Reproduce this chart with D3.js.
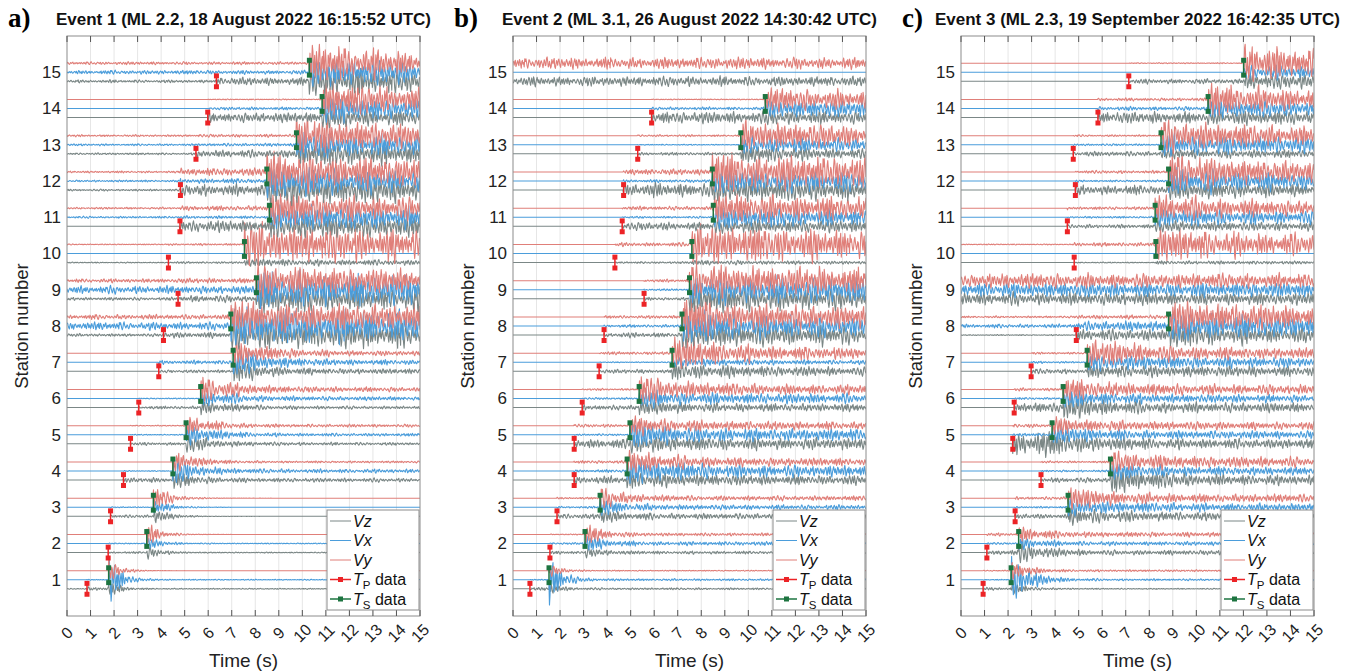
<!DOCTYPE html>
<html>
<head>
<meta charset="utf-8">
<script src="https://cdn.jsdelivr.net/npm/d3@7"></script>
<style>
  body { margin: 0; background: #fff; font-family: "Liberation Sans", Arial, sans-serif; }
</style>
</head>
<body>
<div id="chart"></div>
<script>
// tick labels
var timeTicks = [0, 1, 2, 3, 4, 5, 6, 7, 8, 9, 10, 11, 12, 13, 14, 15];
var stations = [1, 2, 3, 4, 5, 6, 7, 8, 9, 10, 11, 12, 13, 14, 15];

var panelLetters = ["a)", "b)", "c)"];
var eventTitles = [
  "Event 1 (ML 2.2, 18 August 2022 16:15:52 UTC)",
  "Event 2 (ML 3.1, 26 August 2022 14:30:42 UTC)",
  "Event 3 (ML 2.3, 19 September 2022 16:42:35 UTC)"
];

// picked arrival times (s), station 1..15
var ev1Tp = [0.85, 1.75, 1.85, 2.4, 2.7, 3.05, 3.9, 4.1, 4.72, 4.31, 4.8, 4.82, 5.48, 5.98, 6.35];
var ev1Ts = [1.77, 3.39, 3.67, 4.5, 5.06, 5.68, 7.06, 6.96, 8.05, 7.54, 8.6, 8.49, 9.75, 10.84, 10.3];
var ev2Tp = [0.72, 1.57, 1.87, 2.6, 2.6, 2.94, 3.66, 3.87, 5.57, 4.33, 4.64, 4.7, 5.3, 5.89, null];
var ev2Ts = [1.53, 3.06, 3.7, 4.85, 4.97, 5.36, 6.76, 7.18, 7.5, 7.6, 8.51, 8.47, 9.68, 10.72, null];
var ev3Tp = [0.94, 1.1, 2.3, 3.4, 2.2, 2.26, 2.98, 4.9, null, 4.81, 4.52, 4.86, 4.77, 5.82, 7.13];
var ev3Ts = [2.13, 2.45, 4.55, 6.35, 3.87, 4.34, 5.36, 8.82, null, 8.28, 8.25, 8.82, 8.5, 10.5, 12.01];

// coda decay time (s), station 1..15
var ev1Tau = [0.5, 0.6, 0.8, 1.0, 1.2, 1.5, 1.5, 4, 4, 4, 4, 4, 4, 4, 4];
var ev2Tau = [0.5, 0.8, 1, 2, 2, 2, 3, 3, 4, 4, 4, 4, 4, 4, 4];
var ev3Tau = [0.8, 1, 2, 2, 2, 2, 3, 4, 4, 4, 4, 4, 4, 4, 4];

// amplitude (station units): [pre-P noise, P window, S peak, coda level]
var ev1Vy = [[0,0,0.25,0],[0,0,0.28,0],[0,0,0.25,0],[0,0,0.25,0.02],[0,0.01,0.22,0.03],
  [0,0,0.3,0.05],[0,0,0.3,0.05],[0.05,0.05,0.35,0.25],[0.04,0.05,0.35,0.22],[0.01,0.02,0.45,0.3],
  [0.02,0.05,0.35,0.2],[0.02,0.08,0.45,0.25],[0.02,0.03,0.4,0.18],[0,0.01,0.4,0.15],[0.03,0.03,0.42,0.18]];
var ev1Vx = [[0,0.01,0.55,0.01],[0,0.01,0.15,0.01],[0,0.01,0.15,0],[0,0.01,0.3,0.04],[0,0.01,0.25,0.03],
  [0,0.01,0.2,0.04],[0,0.04,0.3,0.05],[0.08,0.08,0.4,0.3],[0.08,0.08,0.4,0.3],[0,0,0,0],
  [0.02,0.03,0.3,0.2],[0.02,0.05,0.35,0.2],[0.02,0.03,0.3,0.18],[0,0.03,0.3,0.15],[0.04,0.04,0.3,0.2]];
var ev1Vz = [[0.01,0.04,0.18,0.01],[0,0.02,0.15,0.01],[0,0.03,0.15,0],[0,0.05,0.2,0.04],[0,0.03,0.2,0.03],
  [0,0.03,0.15,0.03],[0,0.03,0.25,0.05],[0.03,0.06,0.3,0.25],[0.03,0.07,0.3,0.22],[0.01,0.02,0.08,0.05],
  [0,0.12,0.25,0.2],[0.02,0.12,0.3,0.25],[0.02,0.08,0.25,0.2],[0,0.1,0.22,0.12],[0.03,0.08,0.3,0.22]];

var ev2Vy = [[0,0,0.15,0.01],[0,0.01,0.25,0.03],[0,0.02,0.25,0.05],[0,0.03,0.25,0.08],[0,0.03,0.22,0.08],
  [0,0.02,0.3,0.1],[0,0.03,0.35,0.1],[0,0.03,0.45,0.2],[0,0.03,0.35,0.25],[0,0.04,0.45,0.3],
  [0,0.04,0.35,0.2],[0,0.06,0.4,0.3],[0,0.02,0.35,0.15],[0,0.01,0.25,0.15],[0.12,0.12,0.12,0.12]];
var ev2Vx = [[0,0.01,0.55,0.02],[0,0.02,0.2,0.04],[0,0.02,0.2,0.05],[0,0.03,0.3,0.12],[0,0.02,0.3,0.12],
  [0,0.02,0.2,0.1],[0,0.01,0.1,0.04],[0,0.03,0.35,0.2],[0,0.02,0.3,0.25],[0,0,0,0],
  [0,0.02,0.25,0.15],[0,0.03,0.25,0.2],[0,0.01,0.2,0.12],[0,0.03,0.2,0.15],[0,0,0,0]];
var ev2Vz = [[0,0.03,0.12,0.02],[0,0.03,0.12,0.03],[0,0.05,0.15,0.06],[0,0.08,0.2,0.1],[0,0.1,0.2,0.12],
  [0,0.05,0.15,0.08],[0,0.04,0.2,0.08],[0,0.05,0.3,0.2],[0,0.03,0.3,0.2],[0,0.02,0.05,0.03],
  [0,0.08,0.15,0.12],[0,0.15,0.25,0.2],[0,0.03,0.2,0.06],[0,0.12,0.15,0.12],[0.1,0.1,0.1,0.1]];

var ev3Vy = [[0,0.01,0.2,0.02],[0,0.03,0.2,0.05],[0,0.03,0.25,0.08],[0,0.02,0.25,0.1],[0,0.04,0.2,0.08],
  [0,0.03,0.25,0.1],[0,0.02,0.3,0.1],[0.02,0.04,0.35,0.2],[0.15,0.15,0.15,0.15],[0.01,0.04,0.35,0.2],
  [0,0.03,0.3,0.12],[0,0.03,0.4,0.15],[0,0.02,0.35,0.15],[0,0.03,0.35,0.15],[0,0.01,0.4,0.2]];
var ev3Vx = [[0,0.01,0.5,0.02],[0,0.02,0.15,0.04],[0,0.02,0.2,0.08],[0,0.02,0.2,0.08],[0,0.03,0.2,0.08],
  [0,0.02,0.2,0.08],[0,0.02,0.2,0.1],[0.04,0.1,0.3,0.2],[0.15,0.15,0.15,0.15],[0,0,0,0],
  [0,0.02,0.2,0.12],[0,0.02,0.3,0.15],[0,0.02,0.25,0.15],[0,0.04,0.2,0.15],[0,0,0.15,0.12]];
var ev3Vz = [[0,0.03,0.12,0.01],[0,0.05,0.25,0.05],[0,0.05,0.2,0.08],[0,0.05,0.3,0.1],[0,0.25,0.25,0.1],
  [0,0.1,0.25,0.1],[0,0.05,0.15,0.1],[0.01,0.12,0.25,0.15],[0.13,0.13,0.13,0.1],[0,0.01,0.04,0.03],
  [0,0.04,0.12,0.08],[0,0.1,0.2,0.12],[0,0.05,0.1,0.08],[0,0.12,0.15,0.15],[0,0.05,0.15,0.15]];

// hand-typed wiggle shape that carries every trace's envelope
var wiggle = [0.3,0.8,0.2,-0.5,-0.9,-0.4,0.6,1,0.3,-0.2,-0.7,-0.3,0.4,0.2,-0.6,-1,-0.5,0.5,0.9,0.7,
  -0.1,-0.4,0.3,0.6,-0.8,-0.6,0.2,0.5,0.1,-0.3,-0.9,-0.2,0.7,0.4,-0.5,-0.3,0.8,1,0.2,-0.6,
  -0.4,0.3,-0.2,-0.8,-0.5,0.6,0.3,-0.1,0.4,0.9,-0.7,-1,-0.3,0.5,0.2,-0.4,0.6,0.8,0.1,-0.5,
  -0.8,0.2,0.7,0.3,-0.6,-0.2,0.4,-0.9,-0.4,0.3,1,0.5,-0.3,-0.7,0.1,0.6,-0.2,-0.5,0.8,0.4,
  -0.6,-1,-0.2,0.3,0.7,0.2,-0.4,0.5,-0.3,-0.8,0.2,0.9,0.6,-0.5,-0.2,0.4,-0.7,-0.3,0.6,0.2,
  -0.1,-0.6,0.5,1,0.3,-0.9,-0.5,0.2,0.4,-0.3,0.7,-0.6,-0.2,0.8,0.3,-0.4,-1,-0.6,0.5,0.2,
  -0.2,0.6,0.9,-0.3,-0.7,0.1,0.4,-0.5,0.3,0.7,-0.8,-0.4,0.2,0.6,-0.1,-0.6,0.9,0.4,-0.3,-0.9,
  0.3,0.5,-0.2,0.1,-0.7,0.8];
// hand-typed burst strength per 0.35 s stretch
var bursts = [1, 0.7, 1.2, 0.8, 0.55, 0.9, 1.3, 0.75, 0.6, 1.1, 0.85, 0.5, 1, 1.25, 0.7, 0.9, 0.65, 1.15, 0.8, 1.05, 0.6, 0.95, 1.2];

var events = [
  { tp: ev1Tp, ts: ev1Ts, tau: ev1Tau, vz: ev1Vz, vx: ev1Vx, vy: ev1Vy },
  { tp: ev2Tp, ts: ev2Ts, tau: ev2Tau, vz: ev2Vz, vx: ev2Vx, vy: ev2Vy },
  { tp: ev3Tp, ts: ev3Ts, tau: ev3Tau, vz: ev3Vz, vx: ev3Vx, vy: ev3Vy }
];

var colors = { vz: "#7b8786", vx: "#4b9ddb", vy: "#e07f79", tp: "#ec2326", ts: "#1d7440" };
var offsets = { vz: -0.25, vx: 0, vy: 0.25 };
var gain = 1.2;

var W = 1353, H = 672;
var panelLeft = [67, 513, 961];
var plotW = 353, plotTop = 36, plotBottom = 616;

var svg = d3.select("#chart").append("svg")
  .attr("width", W).attr("height", H);

var y = d3.scaleLinear().domain([0, 16]).range([plotBottom, plotTop]);
var sampleTimes = d3.range(0, 15.0001, 0.025);

function envelope(t, a, tp, ts, tau) {
  if (tp == null || t < tp) return a[0];
  if (t < ts) return Math.max(a[0], a[1]);
  return Math.max(a[0], a[3] + (a[2] - a[3]) * Math.exp(-(t - ts) / tau));
}

events.forEach(function (ev, ei) {
  var x = d3.scaleLinear().domain([0, 15]).range([panelLeft[ei], panelLeft[ei] + plotW]);
  var g = svg.append("g");

  g.append("clipPath").attr("id", "clip" + ei)
    .append("rect")
    .attr("x", x(0)).attr("y", plotTop)
    .attr("width", plotW).attr("height", plotBottom - plotTop);

  // grid
  g.append("g").selectAll("line").data(timeTicks.slice(1, -1)).join("line")
    .attr("x1", d => x(d)).attr("x2", d => x(d))
    .attr("y1", plotTop).attr("y2", plotBottom)
    .attr("stroke", "#e6e6e6").attr("stroke-width", 1);

  // traces
  var traces = g.append("g").attr("clip-path", "url(#clip" + ei + ")");
  stations.forEach(function (s, si) {
    ["vz", "vx", "vy"].forEach(function (comp, ci) {
      var amp = ev[comp][si];
      var shift = (si * 23 + ci * 41 + ei * 13) % wiggle.length;
      var bshift = (si * 5 + ci * 7 + ei * 3) % bursts.length;
      var ts = ev.ts[si];
      var line = d3.line()
        .x(d => x(d))
        .y(function (d, i) {
          var e = envelope(d, amp, ev.tp[si], ts, ev.tau[si]);
          // the first half second after the S pick keeps its full peak
          var b = (ts != null && d >= ts && d < ts + 0.5) ? 1.1 : bursts[(Math.floor(d / 0.35) + bshift) % bursts.length];
          return y(s + offsets[comp] + gain * b * e * wiggle[(i + shift) % wiggle.length]);
        });
      traces.append("path")
        .attr("d", line(sampleTimes))
        .attr("fill", "none")
        .attr("stroke", colors[comp])
        .attr("stroke-width", 1.1)
        .attr("stroke-linejoin", "round");
    });
  });

  // picks
  var picks = g.append("g");
  stations.forEach(function (s, si) {
    if (ev.tp[si] == null) return;
    [[ev.tp[si], s - 0.1, s - 0.4, colors.tp], [ev.ts[si], s + 0.33, s - 0.08, colors.ts]].forEach(function (p) {
      picks.append("line")
        .attr("x1", x(p[0])).attr("x2", x(p[0]))
        .attr("y1", y(p[1])).attr("y2", y(p[2]))
        .attr("stroke", p[3]).attr("stroke-width", 1.5);
      [p[1], p[2]].forEach(function (v) {
        picks.append("rect")
          .attr("x", x(p[0]) - 2.5).attr("y", y(v) - 2.5)
          .attr("width", 5).attr("height", 5)
          .attr("fill", p[3]);
      });
    });
  });

  // frame and ticks
  g.append("rect")
    .attr("x", x(0)).attr("y", plotTop)
    .attr("width", plotW).attr("height", plotBottom - plotTop)
    .attr("fill", "none").attr("stroke", "#8c8c8c").attr("stroke-width", 1);

  g.append("g").selectAll("line").data(timeTicks).join("line")
    .attr("x1", d => x(d)).attr("x2", d => x(d))
    .attr("y1", plotTop).attr("y2", plotTop + 6)
    .attr("stroke", "#555");
  g.append("g").selectAll("line").data(timeTicks).join("line")
    .attr("x1", d => x(d)).attr("x2", d => x(d))
    .attr("y1", plotBottom).attr("y2", plotBottom - 6)
    .attr("stroke", "#555");

  // x tick labels
  g.append("g").selectAll("text").data(timeTicks).join("text")
    .attr("transform", d => "translate(" + x(d) + ",633) rotate(-45)")
    .attr("text-anchor", "middle")
    .attr("dy", "0.35em")
    .attr("font-size", 16)
    .attr("fill", "#222")
    .text(d => d);

  // y tick labels
  g.append("g").selectAll("text").data(stations).join("text")
    .attr("x", x(0) - 6).attr("y", d => y(d))
    .attr("text-anchor", "end")
    .attr("dy", "0.35em")
    .attr("font-size", 17)
    .attr("fill", "#222")
    .text(d => d);

  // axis labels
  g.append("text")
    .attr("x", x(7.5)).attr("y", 667)
    .attr("text-anchor", "middle")
    .attr("font-size", 19)
    .attr("fill", "#222")
    .text("Time (s)");
  g.append("text")
    .attr("transform", "translate(" + (x(0) - 39) + "," + ((plotTop + plotBottom) / 2) + ") rotate(-90)")
    .attr("text-anchor", "middle")
    .attr("font-size", 18.5)
    .attr("fill", "#222")
    .text("Station number");

  // titles
  g.append("text")
    .attr("x", x(0) - 59).attr("y", 27)
    .attr("font-family", "'Liberation Serif', 'Times New Roman', serif")
    .attr("font-weight", "bold")
    .attr("font-size", 27)
    .text(panelLetters[ei]);
  g.append("text")
    .attr("x", x(7.5)).attr("y", 25)
    .attr("text-anchor", "middle")
    .attr("font-weight", "bold")
    .attr("font-size", 17)
    .attr("fill", "#111")
    .text(eventTitles[ei]);

  // legend
  var lx = x(15) - 93, ly = plotBottom - 106;
  var lg = g.append("g");
  lg.append("rect")
    .attr("x", lx).attr("y", ly).attr("width", 92).attr("height", 100)
    .attr("fill", "#fff").attr("stroke", "#8c8c8c");
  var items = [
    { key: "vz", label: "Vz" }, { key: "vx", label: "Vx" }, { key: "vy", label: "Vy" },
    { key: "tp", sub: "P" }, { key: "ts", sub: "S" }
  ];
  items.forEach(function (it, i) {
    var cy = ly + 11 + i * 19.5;
    lg.append("line")
      .attr("x1", lx + 3).attr("x2", lx + 24)
      .attr("y1", cy).attr("y2", cy)
      .attr("stroke", colors[it.key]).attr("stroke-width", it.sub ? 1.5 : 1);
    if (it.sub) {
      lg.append("rect")
        .attr("x", lx + 11).attr("y", cy - 2.5).attr("width", 5).attr("height", 5)
        .attr("fill", colors[it.key]);
      var t = lg.append("text")
        .attr("x", lx + 26).attr("y", cy).attr("dy", "0.35em")
        .attr("font-size", 16).attr("fill", "#111");
      t.append("tspan").attr("font-style", "italic").text("T");
      t.append("tspan").attr("font-size", 11.5).attr("dy", 4).text(it.sub);
      t.append("tspan").attr("dy", -4).text(" data");
    } else {
      lg.append("text")
        .attr("x", lx + 26).attr("y", cy).attr("dy", "0.35em")
        .attr("font-size", 16).attr("font-style", "italic").attr("fill", "#111")
        .text(it.label);
    }
  });
});
</script>
</body>
</html>
